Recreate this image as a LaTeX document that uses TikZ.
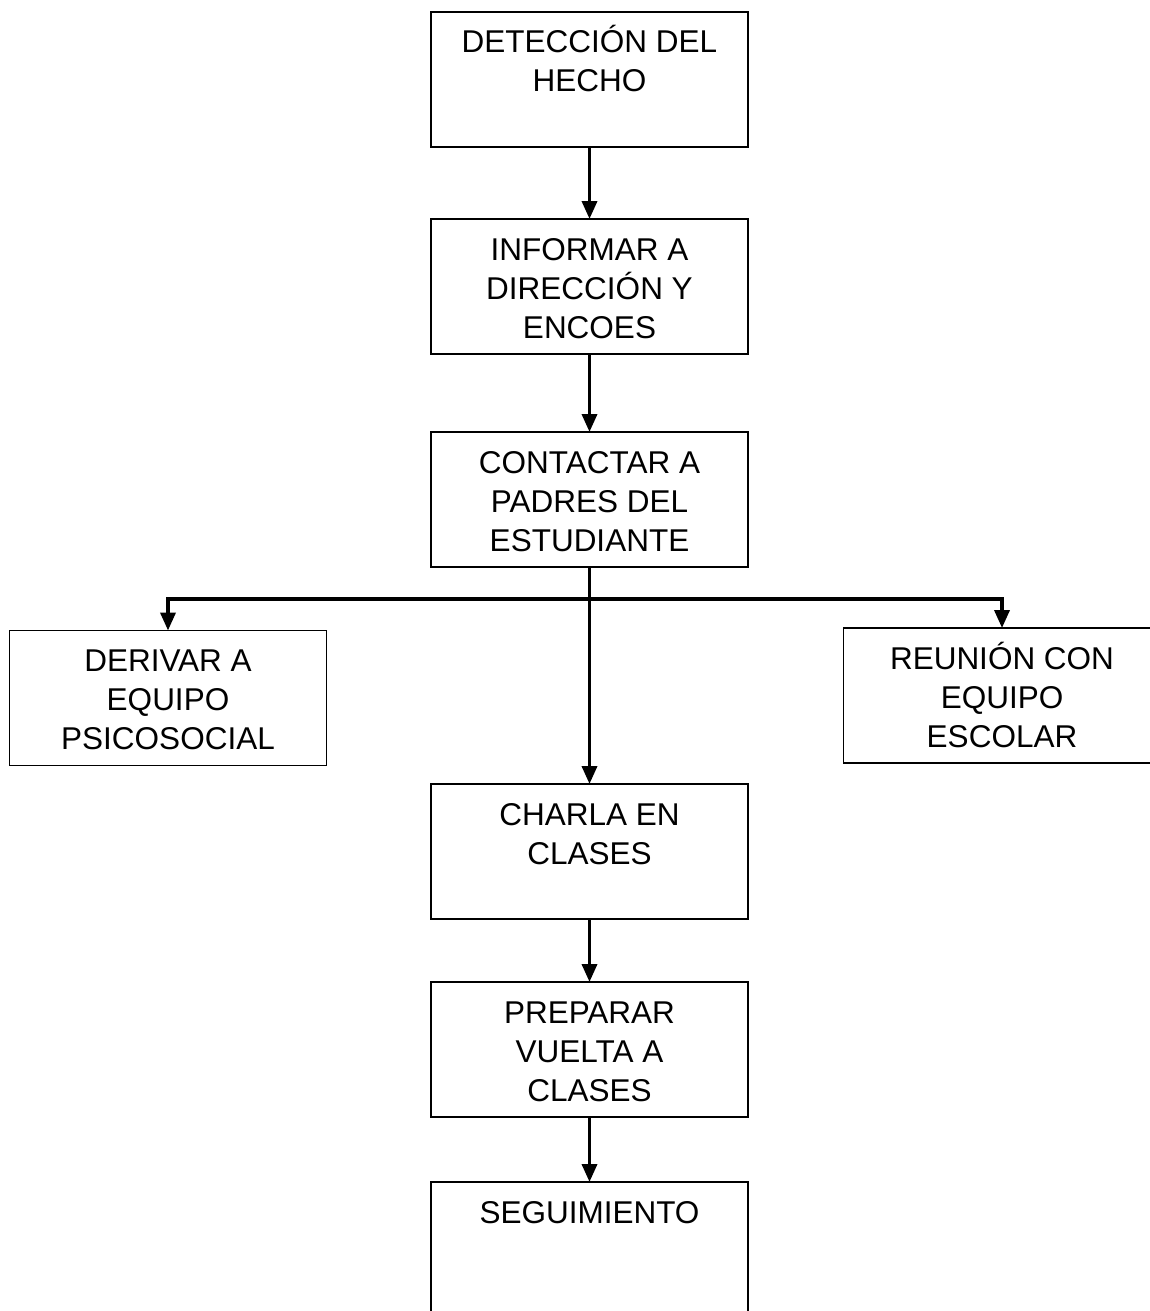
\documentclass[tikz,border=0pt]{standalone}
\usepackage{fontspec}
\setmainfont{Liberation Sans}
\usetikzlibrary{arrows.meta}
\newcommand\boxtext[1]{\parbox[c][135pt][t]{317pt}{\centering\fontsize{31.5}{39}\selectfont\vspace*{11pt}\rule{0pt}{30pt}#1\par}}
\tikzset{
  flowbox/.style={draw, line width=1.4pt, inner sep=0pt, outer sep=0pt},
  flowarr/.style={line width=3.6pt, -{Triangle[length=18pt,width=15pt]}}
}
\begin{document}
\begin{tikzpicture}[x=1pt,y=-1pt]
\useasboundingbox (0,0) rectangle (1149,1311);
\node[flowbox] (b1) at (589.5,79.5) {\boxtext{DETECCIÓN DEL\\HECHO}};
\node[flowbox] (b2) at (589.5,286.5) {\boxtext{INFORMAR A\\DIRECCIÓN Y\\ENCOES}};
\node[flowbox] (b3) at (589.5,499.5) {\boxtext{CONTACTAR A\\PADRES DEL\\ESTUDIANTE}};
\node[flowbox] (bl) at (168,698) {\boxtext{DERIVAR A\\EQUIPO\\PSICOSOCIAL}};
\node[flowbox] (br) at (1002,695.5) {\boxtext{REUNIÓN CON\\EQUIPO\\ESCOLAR}};
\node[flowbox] (b4) at (589.5,851.5) {\boxtext{CHARLA EN\\CLASES}};
\node[flowbox] (b5) at (589.5,1049.5) {\boxtext{PREPARAR\\VUELTA A\\CLASES}};
\node[flowbox] (b6) at (589.5,1249.5) {\boxtext{SEGUIMIENTO}};
\coordinate (jn) at (589.5,599);
\draw[flowarr] (b1.south) -- (b2.north);
\draw[flowarr] (b2.south) -- (b3.north);
\draw[flowarr] (b3.south) -- (b4.north);
\draw[flowarr] (jn) -| (bl.north);
\draw[flowarr] (jn) -| (br.north);
\draw[flowarr] (b4.south) -- (b5.north);
\draw[flowarr] (b5.south) -- (b6.north);
\end{tikzpicture}
\end{document}
